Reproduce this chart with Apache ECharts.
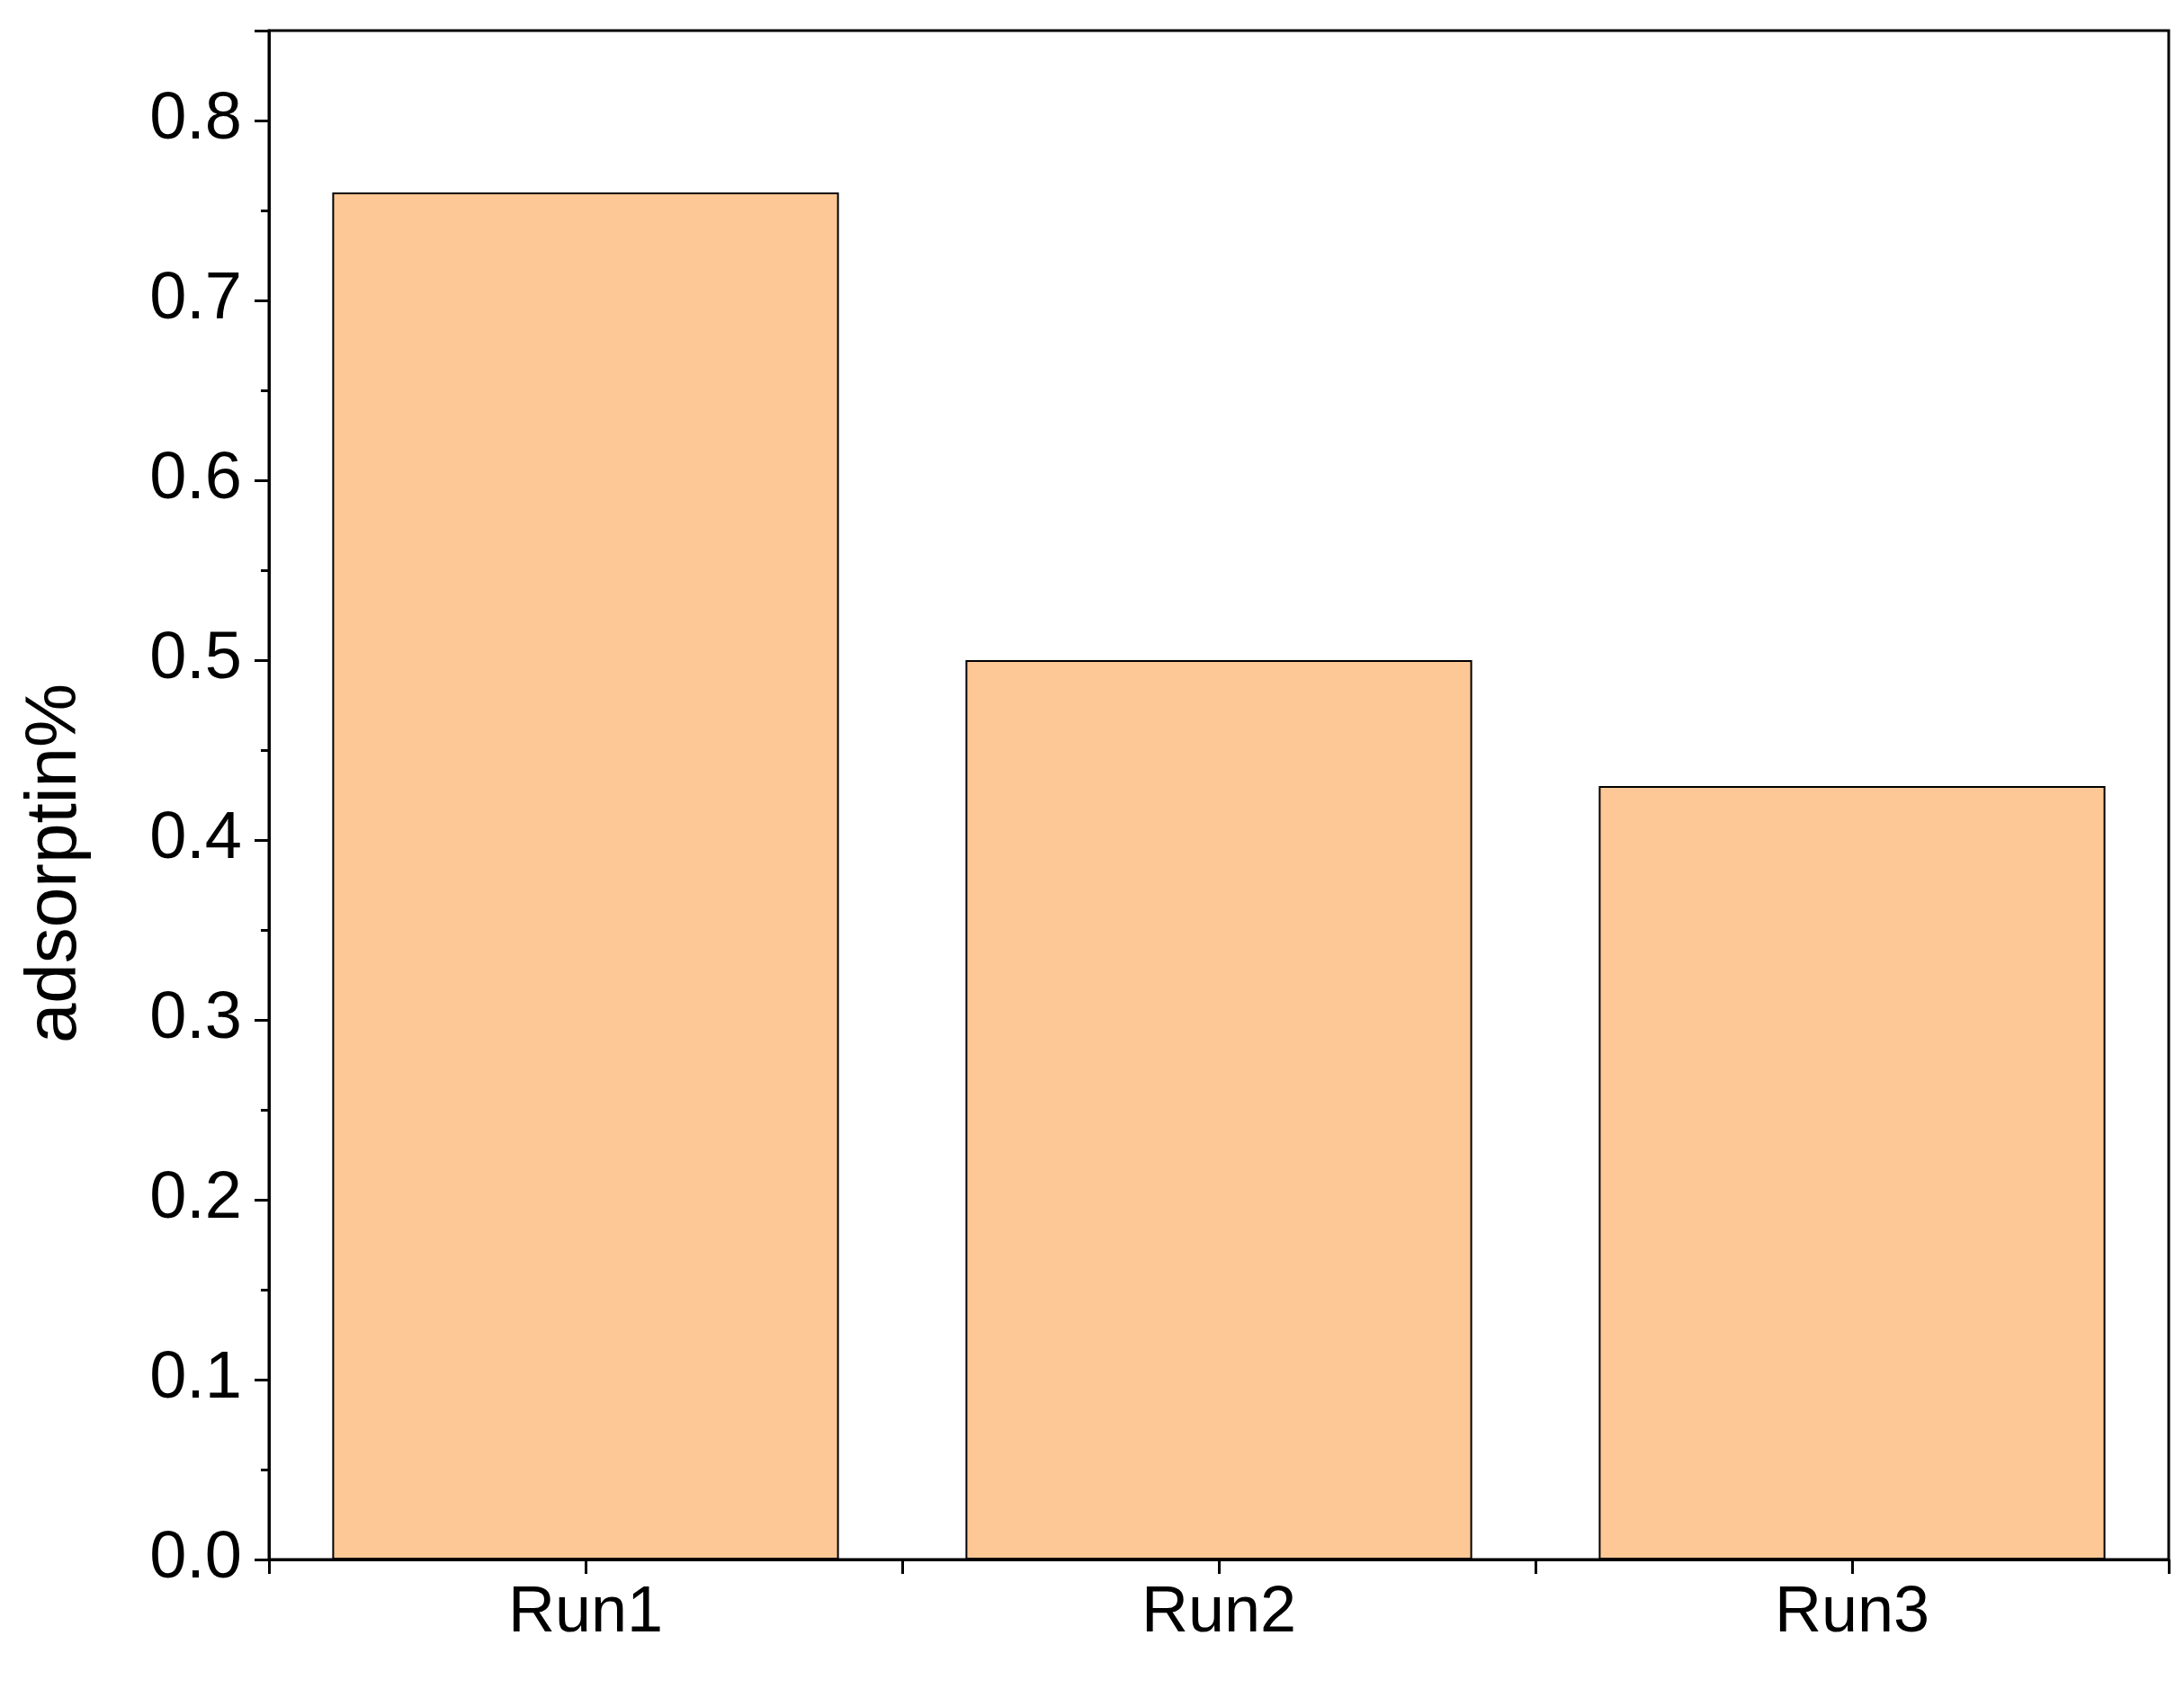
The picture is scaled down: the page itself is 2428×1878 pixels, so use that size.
<!DOCTYPE html>
<html>
<head>
<meta charset="utf-8">
<script src="https://cdn.jsdelivr.net/npm/echarts@6/dist/echarts.min.js"></script>
<style>html,body{margin:0;padding:0;background:#fff}#DataChart{width:2428px;height:1878px}</style>
</head>
<body>
<div id="DataChart"></div>
<script>
var categories = ['Run1', 'Run2', 'Run3'];
var adsorption = [0.76, 0.50, 0.43];
var yTicks = [0, 0.1, 0.2, 0.3, 0.4, 0.5, 0.6, 0.7, 0.8];

var myChart = echarts.init(document.getElementById('DataChart'));
var font = 'Liberation Sans, Arial, sans-serif';

var option = {
    animation: false,
    grid: {
        left: 299, right: 17, top: 34, bottom: 144,
        show: true, borderColor: '#000', borderWidth: 3, backgroundColor: 'transparent'
    },
    graphic: [{
        type: 'text',
        x: 62, y: 960,
        rotation: Math.PI / 2,
        style: {
            text: 'adsorptin%', fill: '#000', fontSize: 80, fontFamily: font,
            align: 'center', verticalAlign: 'middle'
        }
    }],
    xAxis: [
        {
            type: 'category',
            data: categories,
            axisLine: { lineStyle: { color: '#000', width: 3 } },
            axisTick: { show: false },
            axisLabel: { color: '#000', fontSize: 72, fontFamily: font, margin: 24 }
        },
        {
            type: 'value', min: 0, max: 3, interval: 0.5,
            position: 'bottom',
            axisLine: { show: false },
            axisTick: { show: true, inside: false, length: 16, lineStyle: { color: '#000', width: 3 } },
            axisLabel: { show: false },
            splitLine: { show: false }
        }
    ],
    yAxis: {
        type: 'value',
        min: 0, max: 0.85, interval: 0.1,
        axisLine: { show: true, lineStyle: { color: '#000', width: 3 } },
        axisTick: { show: true, length: 16, lineStyle: { color: '#000', width: 3 } },
        minorTick: { show: true, splitNumber: 2, length: 9, lineStyle: { color: '#000', width: 3 } },
        axisLabel: {
            color: '#000', fontSize: 74, fontFamily: font, margin: 30,
            formatter: function (v) {
                var r = Math.round(v * 10) / 10;
                return yTicks.indexOf(r) >= 0 && Math.abs(v - r) < 1e-6 ? r.toFixed(1) : '';
            }
        },
        splitLine: { show: false }
    },
    series: [{
        type: 'bar',
        data: adsorption,
        barCategoryGap: '20%',
        itemStyle: { color: '#fec896', borderColor: '#000', borderWidth: 2 }
    }]
};

myChart.setOption(option);
</script>
</body>
</html>
